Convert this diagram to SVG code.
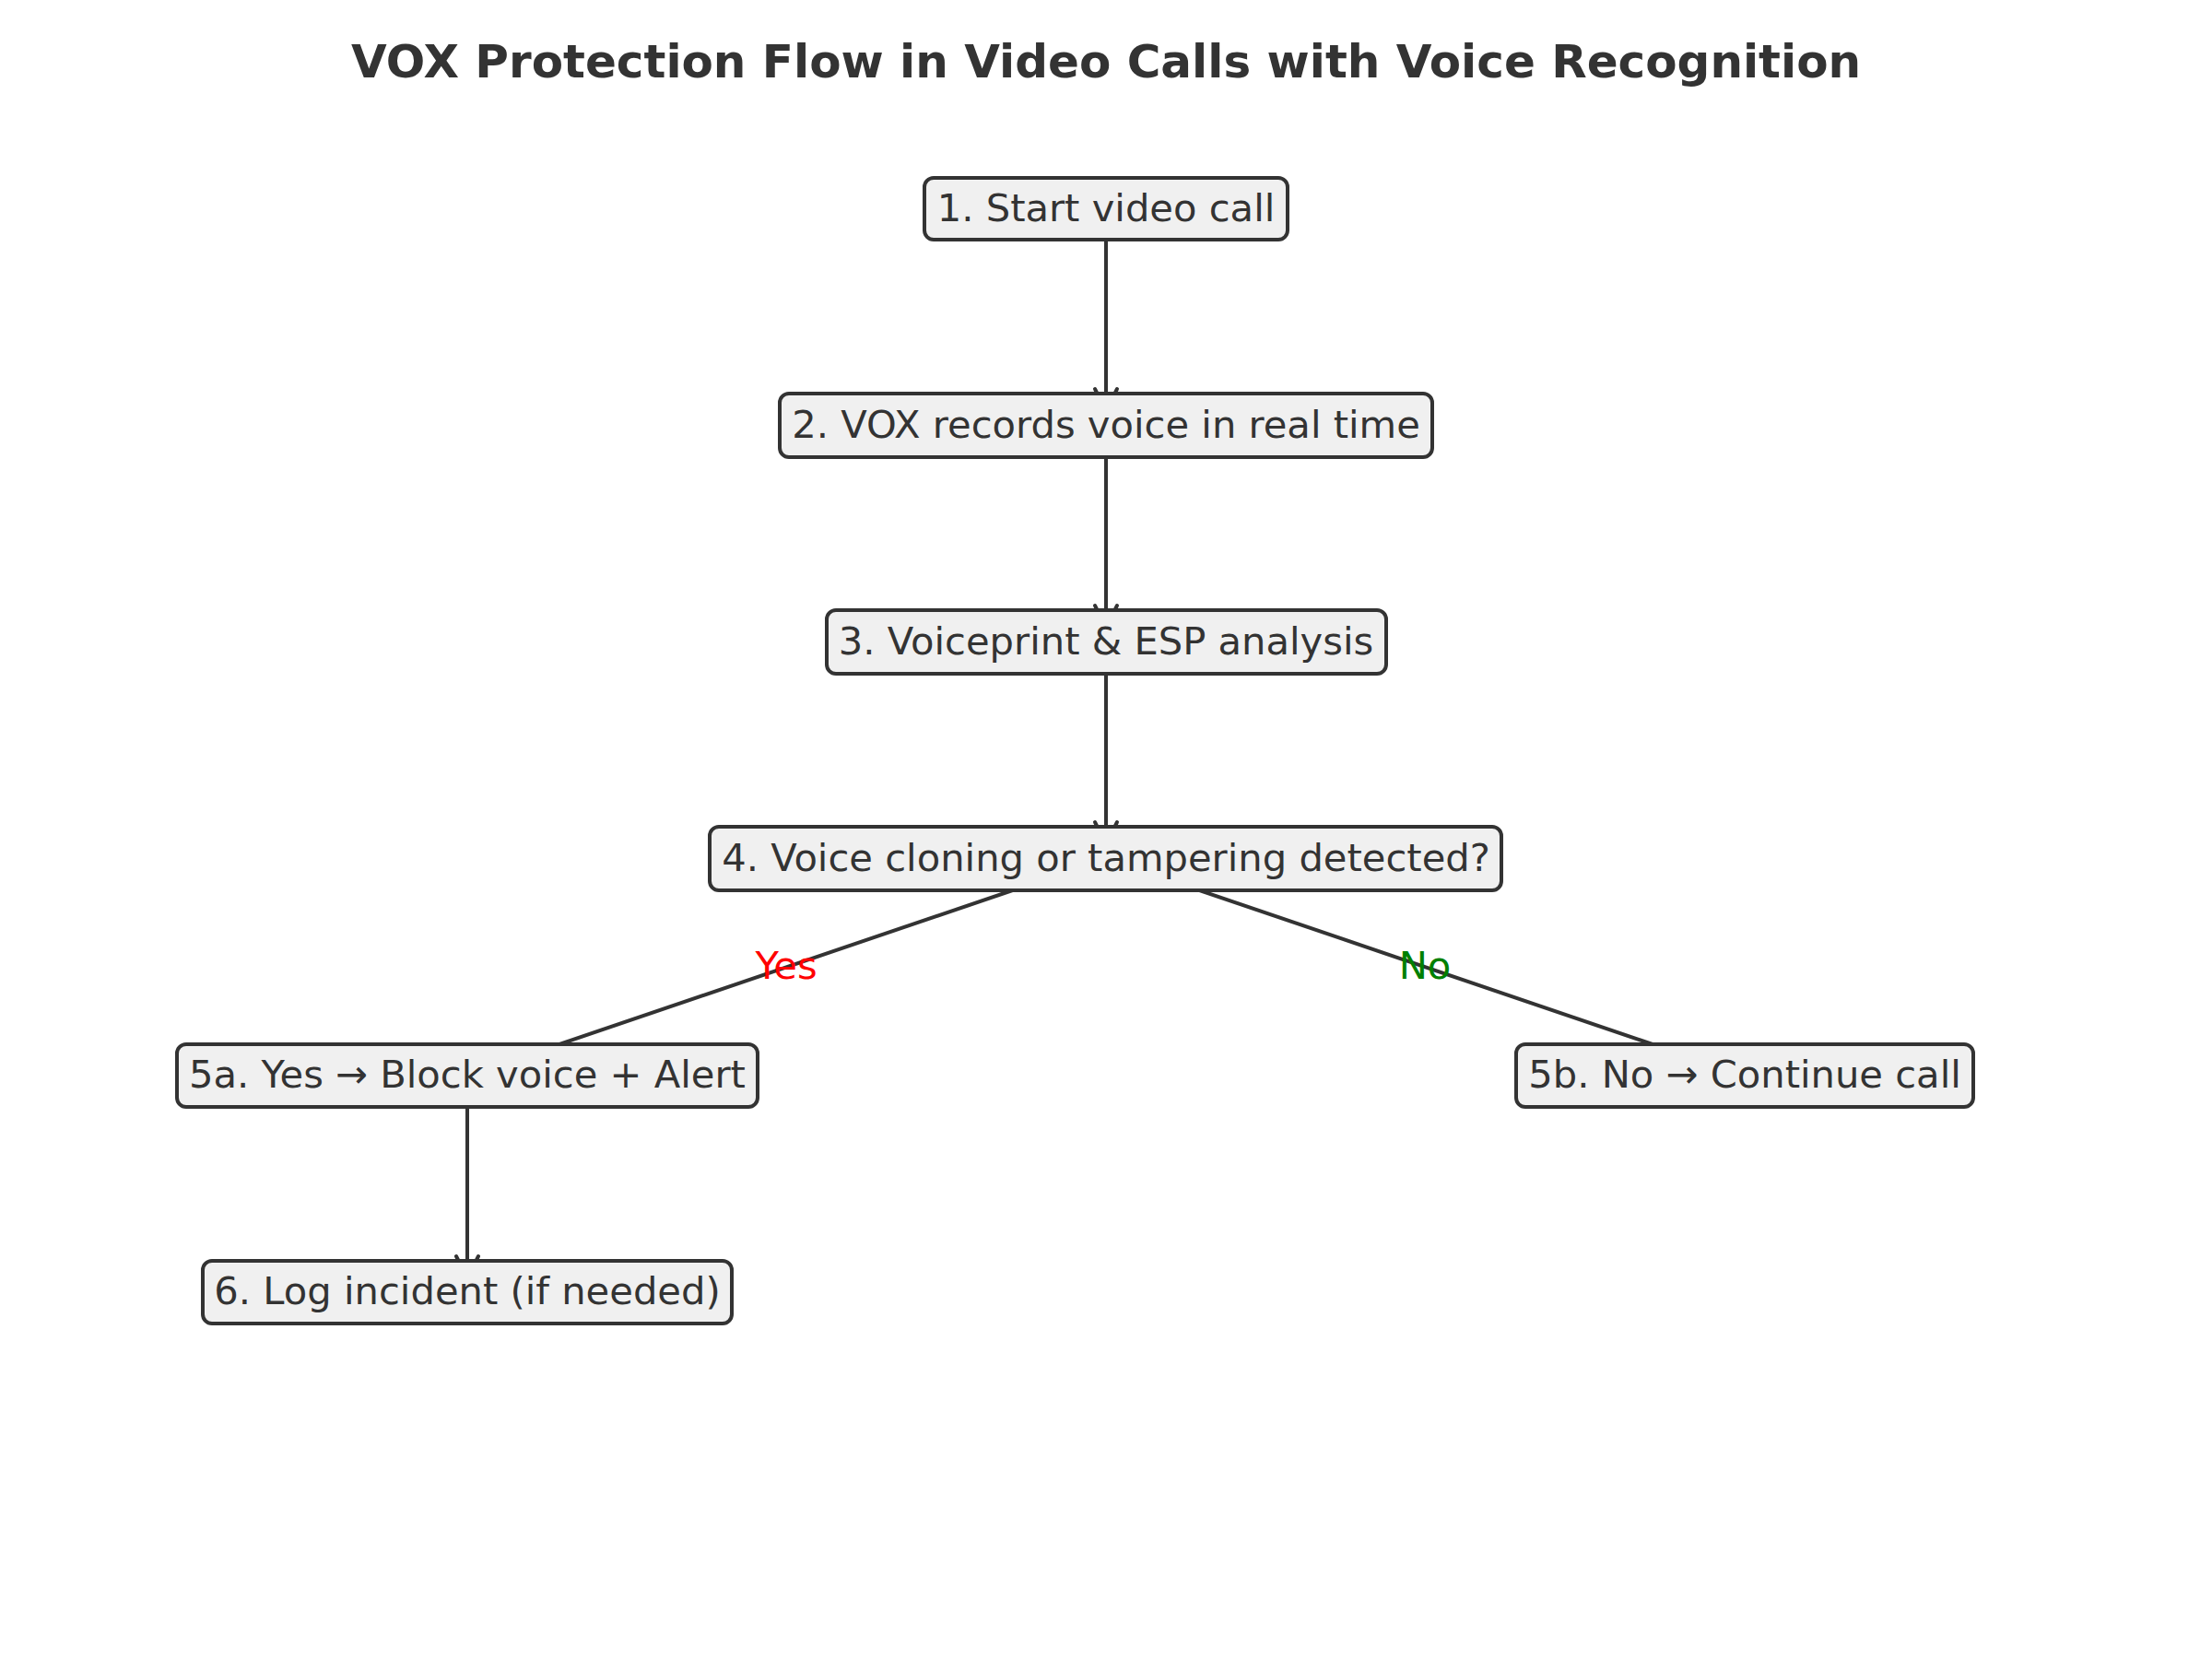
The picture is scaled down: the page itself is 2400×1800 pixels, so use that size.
<svg xmlns="http://www.w3.org/2000/svg" width="2400" height="1800" viewBox="0 0 2400 1800">
  <style>
    .box { fill: #f0f0f0; stroke: #333333; stroke-width: 4; }
    .lbl { font-family: "DejaVu Sans", "Liberation Sans", sans-serif; font-size: 41.67px; fill: #333333; text-anchor: middle; }
    .edge { fill: none; stroke: #333333; stroke-width: 4; }
    .title { font-family: "DejaVu Sans", "Liberation Sans", sans-serif; font-size: 50px; font-weight: bold; fill: #333333; text-anchor: middle; }
    .yes { font-family: "DejaVu Sans", "Liberation Sans", sans-serif; font-size: 41.67px; fill: #ff0000; text-anchor: middle; }
    .no { font-family: "DejaVu Sans", "Liberation Sans", sans-serif; font-size: 41.67px; fill: #008000; text-anchor: middle; }
  </style>
  <defs>
    <marker id="arr" markerUnits="userSpaceOnUse" markerWidth="40" markerHeight="40" viewBox="-30 -20 40 40" refX="0" refY="0" orient="auto" overflow="visible">
      <path d="M-24,-12 L0,0 L-24,12" fill="none" stroke="#333333" stroke-width="4" stroke-linecap="round" stroke-linejoin="round"/>
    </marker>
  </defs>
  <rect x="0" y="0" width="2400" height="1800" fill="#ffffff"/>
  <text class="title" x="1200" y="84">VOX Protection Flow in Video Calls with Voice Recognition</text>

  <g id="connectors">
    <path class="edge" d="M1200,226.5 L1200,446" marker-end="url(#arr)"/>
    <path class="edge" d="M1200,461.5 L1200,681" marker-end="url(#arr)"/>
    <path class="edge" d="M1200,696.5 L1200,916" marker-end="url(#arr)"/>
    <path class="edge" d="M1200,931.5 L507,1167" marker-end="url(#arr)"/>
    <path class="edge" d="M1200,931.5 L1893,1167" marker-end="url(#arr)"/>
    <path class="edge" d="M507,1167 L507,1387" marker-end="url(#arr)"/>
    <text class="yes" x="853" y="1062">Yes</text>
    <text class="no" x="1546" y="1062">No</text>
  </g>

  <g id="node1">
    <rect class="box" x="1003" y="193" width="394" height="67" rx="10"/>
    <text class="lbl" x="1200" y="239.5">1. Start video call</text>
  </g>
  <g id="node2">
    <rect class="box" x="846" y="427" width="708" height="69" rx="10"/>
    <text class="lbl" x="1200" y="474.5">2. VOX records voice in real time</text>
  </g>
  <g id="node3">
    <rect class="box" x="897" y="662" width="607" height="69" rx="10"/>
    <text class="lbl" x="1200" y="709.5">3. Voiceprint &amp; ESP analysis</text>
  </g>
  <g id="node4">
    <rect class="box" x="770" y="897" width="859" height="69" rx="10"/>
    <text class="lbl" x="1200" y="944.5">4. Voice cloning or tampering detected?</text>
  </g>
  <g id="node5a">
    <rect class="box" x="192" y="1133" width="630" height="68" rx="10"/>
    <text class="lbl" x="507" y="1180">5a. Yes → Block voice + Alert</text>
  </g>
  <g id="node5b">
    <rect class="box" x="1645" y="1133" width="496" height="68" rx="10"/>
    <text class="lbl" x="1893" y="1180">5b. No → Continue call</text>
  </g>
  <g id="node6">
    <rect class="box" x="220" y="1368" width="574" height="68" rx="10"/>
    <text class="lbl" x="507" y="1415">6. Log incident (if needed)</text>
  </g>
</svg>
